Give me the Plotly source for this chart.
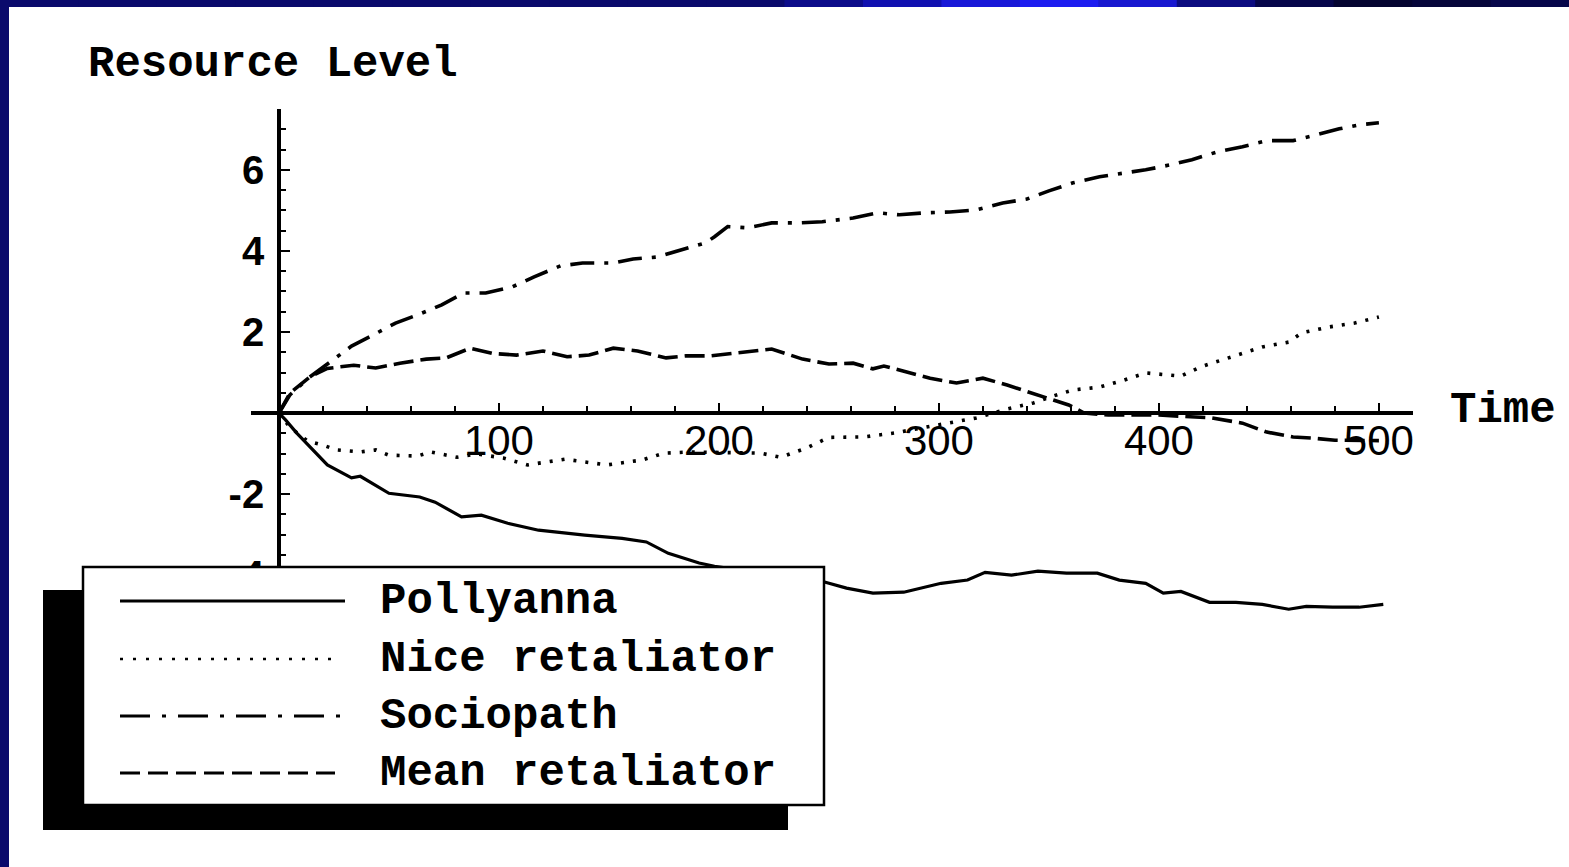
import plotly.graph_objects as go

# ---------------- data ----------------
series_names = ["Pollyanna", "Nice retaliator", "Sociopath", "Mean retaliator"]

polly_t = [0, 3, 8, 14, 22, 33, 37, 50, 64, 71, 83, 92, 104, 118, 130, 139, 156, 167, 177, 191,
           198, 220, 235, 248, 258, 270, 284, 301, 313, 321, 333, 345, 358, 372, 382, 394, 402,
           410, 423, 435, 447, 459, 467, 479, 491, 502]
polly_v = [0.0, -0.17, -0.49, -0.84, -1.28, -1.6, -1.56, -1.98, -2.07, -2.2, -2.56, -2.52, -2.72,
           -2.89, -2.96, -3.01, -3.09, -3.18, -3.46, -3.7, -3.78, -3.95, -4.05, -4.17, -4.32, -4.44,
           -4.42, -4.2, -4.12, -3.93, -4.0, -3.9, -3.95, -3.95, -4.12, -4.2, -4.44, -4.4, -4.67,
           -4.67, -4.72, -4.84, -4.77, -4.79, -4.79, -4.72]

nice_t = [0, 5, 13, 20, 26, 37, 44, 50, 63, 69, 81, 90, 102, 113, 119, 130, 149, 165, 175, 187,
          219, 228, 240, 250, 266, 280, 294, 317, 331, 343, 352, 361, 373, 384, 394, 410, 419,
          433, 447, 459, 465, 477, 489, 500]
nice_v = [0.0, -0.35, -0.69, -0.79, -0.91, -0.96, -0.91, -1.04, -1.06, -0.96, -1.09, -1.01, -1.11,
          -1.28, -1.23, -1.14, -1.28, -1.16, -0.99, -0.96, -0.99, -1.09, -0.86, -0.6, -0.59, -0.49,
          -0.35, -0.12, 0.1, 0.25, 0.42, 0.57, 0.64, 0.81, 0.99, 0.91, 1.14, 1.38, 1.63, 1.75,
          1.98, 2.12, 2.22, 2.37]

socio_t = [0, 5, 14, 26, 33, 43, 53, 63, 74, 84, 94, 106, 116, 128, 138, 152, 161, 172, 183, 194,
           198, 204, 213, 224, 236, 247, 261, 272, 282, 294, 305, 317, 329, 340, 350, 361, 373,
           384, 394, 405, 415, 427, 438, 449, 461, 470, 482, 491, 500]
socio_v = [0.0, 0.45, 0.89, 1.38, 1.65, 1.93, 2.22, 2.42, 2.67, 2.96, 2.96, 3.11, 3.36, 3.63, 3.7,
           3.7, 3.8, 3.85, 4.02, 4.2, 4.35, 4.6, 4.57, 4.69, 4.69, 4.72, 4.81, 4.94, 4.89, 4.94,
           4.96, 5.01, 5.18, 5.28, 5.48, 5.68, 5.83, 5.92, 6.0, 6.12, 6.25, 6.45, 6.57, 6.72, 6.72,
           6.84, 7.01, 7.11, 7.16]

mean_t = [0, 5, 14, 22, 28, 34, 44, 55, 67, 76, 87, 97, 108, 120, 131, 141, 152, 163, 176, 185,
          196, 213, 224, 238, 250, 261, 270, 275, 285, 296, 308, 320, 331, 343, 352, 359, 366,
          377, 400, 424, 438, 449, 461, 470, 480, 500]
mean_v = [0.0, 0.49, 0.89, 1.1, 1.14, 1.18, 1.11, 1.23, 1.33, 1.36, 1.6, 1.47, 1.43, 1.53, 1.39,
          1.43, 1.6, 1.53, 1.36, 1.41, 1.41, 1.51, 1.58, 1.33, 1.21, 1.23, 1.09, 1.16, 1.01, 0.86,
          0.74, 0.86, 0.69, 0.49, 0.32, 0.2, 0.0, -0.05, -0.05, -0.12, -0.25, -0.47, -0.59, -0.62,
          -0.67, -0.68]

x_tick_vals = [100, 200, 300, 400, 500]
x_tick_text = ["100", "200", "300", "400", "500"]
y_tick_vals = [-4, -2, 2, 4, 6]
y_tick_text = ["-4", "-2", "2", "4", "6"]

x_title = "Time"
y_title = "Resource Level"

# ---------------- layout geometry ----------------
W, H = 1569, 867
L, R, T, B = 251, 1413, 109, 636          # plot area in pixels
XR = [-12.7, 515.5]
YR = [-5.5, 7.5]


def px(x):
    return (x - L) / (R - L)


def py(y):
    return (B - y) / (B - T)


mono = "Courier New, Courier, Liberation Mono, monospace"
sans = "Liberation Sans, Arial, Helvetica, sans-serif"

fig = go.Figure()
styles = [
    dict(dash="solid", width=3.2),
    dict(dash="3px,9px", width=3.6),
    dict(dash="24px,10px,4px,10px", width=3.6),
    dict(dash="20px,7px", width=3.6),
]
data = [(polly_t, polly_v), (nice_t, nice_v), (socio_t, socio_v), (mean_t, mean_v)]
for name, (t, v), st in zip(series_names, data, styles):
    fig.add_trace(go.Scatter(x=t, y=v, mode="lines", name=name,
                             line=dict(color="black", dash=st["dash"], width=st["width"]),
                             showlegend=False))

x_pos = (0 - YR[0]) / (YR[1] - YR[0])
y_pos = (0 - XR[0]) / (XR[1] - XR[0])

fig.update_layout(
    width=W, height=H,
    margin=dict(l=L, r=W - R, t=T, b=H - B, pad=0),
    paper_bgcolor="white", plot_bgcolor="white",
    template="none",
    xaxis=dict(range=XR, anchor="free", position=x_pos, showgrid=False, zeroline=False,
               showline=True, linecolor="black", linewidth=3.5,
               tickmode="array", tickvals=x_tick_vals, ticktext=x_tick_text,
               ticks="inside", ticklen=8, tickwidth=2, tickcolor="black",
               minor=dict(dtick=20, tick0=0, ticks="inside", ticklen=5, tickwidth=2, tickcolor="black"),
               tickfont=dict(family=sans, size=42, color="black"),
               ticklabelstandoff=-10, automargin=False),
    yaxis=dict(range=YR, anchor="free", position=y_pos, showgrid=False, zeroline=False,
               showline=True, linecolor="black", linewidth=3.5,
               tickmode="array", tickvals=y_tick_vals, ticktext=y_tick_text,
               ticks="inside", ticklen=9, tickwidth=2, tickcolor="black",
               minor=dict(dtick=0.5, tick0=0, ticks="inside", ticklen=5, tickwidth=2, tickcolor="black"),
               tickfont=dict(family=sans, size=40, color="black", weight="bold"),
               ticklabelstandoff=5, automargin=False),
)

shapes = []
# blue frame (top gradient strip and left strip)
top_cols = ["#0a0a6c"] * 10 + ["#0c0c8a", "#1010b0", "#1818d8", "#1c1cf0", "#1818d0",
                               "#0c0c80", "#06064a", "#040430", "#05053a", "#06064a"]
n = len(top_cols)
for i, c in enumerate(top_cols):
    shapes.append(dict(type="rect", xref="paper", yref="paper",
                       x0=px(i * W / n), x1=px((i + 1) * W / n + 1), y0=py(7), y1=py(0),
                       fillcolor=c, line=dict(width=0), layer="above"))
shapes.append(dict(type="rect", xref="paper", yref="paper", x0=px(0), x1=px(9), y0=py(H), y1=py(0),
                   fillcolor="#0a0a6c", line=dict(width=0), layer="above"))

# legend: shadow, box, samples
shapes.append(dict(type="rect", xref="paper", yref="paper", x0=px(43), x1=px(788), y0=py(830), y1=py(590),
                   fillcolor="black", line=dict(width=0), layer="above"))
shapes.append(dict(type="rect", xref="paper", yref="paper", x0=px(83), x1=px(824), y0=py(805), y1=py(567),
                   fillcolor="white", line=dict(color="black", width=2.5), layer="above"))
rows = [601, 659, 716, 773]
sample_dash = ["solid", "3px,10px", "30px,12px,4px,12px", "20px,8px"]
sample_w = [3, 2.5, 3, 3]
sample_end = [345, 335, 345, 335]
for i, name in enumerate(series_names):
    shapes.append(dict(type="line", xref="paper", yref="paper", x0=px(120), x1=px(sample_end[i]),
                       y0=py(rows[i]), y1=py(rows[i]),
                       line=dict(color="black", width=sample_w[i], dash=sample_dash[i]), layer="above"))
fig.update_layout(shapes=shapes)

annotations = []
for i, name in enumerate(series_names):
    annotations.append(dict(text=name, xref="paper", yref="paper", x=px(378), y=py(rows[i]),
                            xanchor="left", yanchor="middle", showarrow=False,
                            font=dict(family=mono, size=44, color="black", weight="bold")))
annotations.append(dict(text=y_title, xref="paper", yref="paper", x=px(86), y=py(64),
                        xanchor="left", yanchor="middle", showarrow=False,
                        font=dict(family=mono, size=44, color="black", weight="bold")))
annotations.append(dict(text=x_title, xref="paper", yref="paper", x=px(1448), y=py(410),
                        xanchor="left", yanchor="middle", showarrow=False,
                        font=dict(family=mono, size=44, color="black", weight="bold")))
fig.update_layout(annotations=annotations)

fig.write_html("out.html",
               config={"displayModeBar": False},
               post_script="document.body.style.margin='0px';"
                           "document.documentElement.style.overflow='hidden';")
